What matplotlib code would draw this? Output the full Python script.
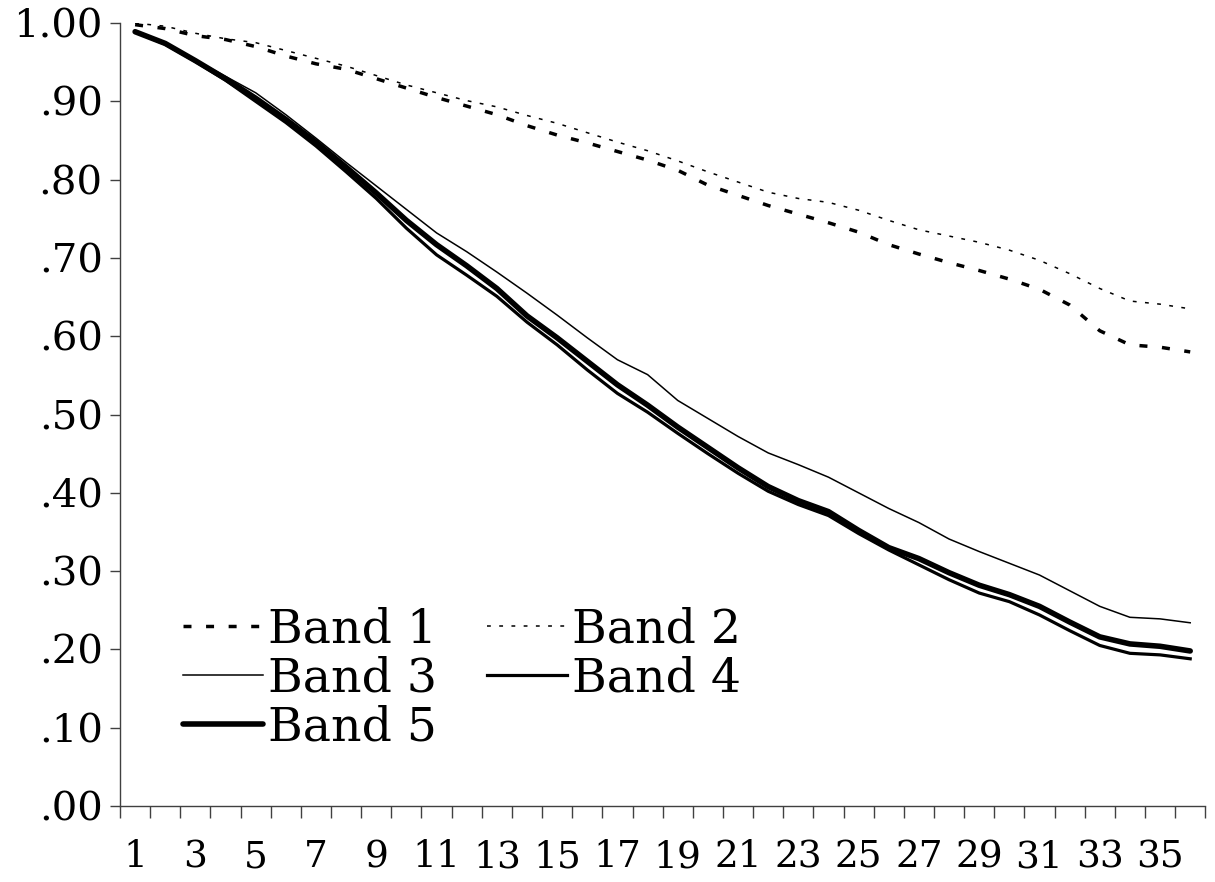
import matplotlib.pyplot as plt
from matplotlib.ticker import FixedLocator, FuncFormatter

# period index 1..36
periods = list(range(1, 37))

band1 = [0.998, 0.993, 0.984, 0.979, 0.970, 0.958, 0.948, 0.941, 0.929, 0.917,
         0.905, 0.894, 0.883, 0.869, 0.857, 0.847, 0.836, 0.825, 0.812, 0.793,
         0.780, 0.767, 0.756, 0.745, 0.733, 0.717, 0.705, 0.694, 0.684, 0.673,
         0.660, 0.640, 0.607, 0.589, 0.586, 0.580]
band2 = [1.000, 0.996, 0.987, 0.980, 0.975, 0.965, 0.955, 0.945, 0.933, 0.921,
         0.911, 0.901, 0.893, 0.882, 0.872, 0.860, 0.848, 0.837, 0.824, 0.810,
         0.797, 0.784, 0.776, 0.771, 0.761, 0.748, 0.736, 0.728, 0.720, 0.710,
         0.697, 0.680, 0.661, 0.645, 0.641, 0.635]
band3 = [0.990, 0.975, 0.953, 0.932, 0.911, 0.883, 0.853, 0.822, 0.792, 0.762,
         0.732, 0.708, 0.682, 0.655, 0.627, 0.598, 0.570, 0.551, 0.518, 0.495,
         0.472, 0.451, 0.436, 0.420, 0.400, 0.380, 0.362, 0.341, 0.325, 0.310,
         0.295, 0.275, 0.255, 0.241, 0.239, 0.234]
band4 = [0.989, 0.973, 0.951, 0.927, 0.900, 0.873, 0.843, 0.810, 0.776, 0.738,
         0.704, 0.678, 0.651, 0.618, 0.589, 0.557, 0.527, 0.503, 0.476, 0.450,
         0.425, 0.402, 0.385, 0.371, 0.348, 0.327, 0.308, 0.289, 0.272, 0.261,
         0.244, 0.224, 0.205, 0.195, 0.193, 0.188]
band5 = [0.989, 0.974, 0.952, 0.929, 0.904, 0.877, 0.848, 0.816, 0.783, 0.748,
         0.717, 0.690, 0.661, 0.626, 0.598, 0.568, 0.538, 0.512, 0.484, 0.458,
         0.432, 0.408, 0.390, 0.376, 0.352, 0.330, 0.316, 0.298, 0.282, 0.270,
         0.255, 0.235, 0.216, 0.207, 0.204, 0.198]

plt.rcParams['font.family'] = ['DejaVu Serif']

fig = plt.figure(figsize=(12.15, 8.82), dpi=100)
ax = fig.add_axes([0.0988, 0.0862, 0.8932, 0.8876])

l1, = ax.plot(periods, band1, color='black', lw=2.5, dashes=(2.3, 4.2), label='Band 1')
l2, = ax.plot(periods, band2, color='black', lw=1.1, dashes=(2.5, 5.5), label='Band 2')
l3, = ax.plot(periods, band3, color='black', lw=1.1, label='Band 3')
l4, = ax.plot(periods, band4, color='black', lw=2.3, label='Band 4')
l5, = ax.plot(periods, band5, color='black', lw=4.0, label='Band 5',
              solid_capstyle='round')

ax.set_xlim(0.5, 36.5)
ax.set_ylim(0, 1)

for s in ['top', 'right']:
    ax.spines[s].set_visible(False)
for s in ['left', 'bottom']:
    ax.spines[s].set_color('#404040')
    ax.spines[s].set_linewidth(1)

# y ticks .00 .. 1.00
ax.set_yticks([i / 10 for i in range(11)])
ax.yaxis.set_major_formatter(FuncFormatter(lambda v, p: ('%.2f' % v).lstrip('0') if v < 1 else '%.2f' % v))
ax.tick_params(axis='y', direction='out', length=7.5, width=1, color='#404040',
               labelsize=29, pad=5)

# x: tick marks between categories, labels on odd categories
ax.xaxis.set_major_locator(FixedLocator([p - 0.5 for p in periods] + [36.5]))
ax.xaxis.set_major_formatter(FuncFormatter(lambda v, p: ''))
ax.xaxis.set_minor_locator(FixedLocator([p for p in periods if p % 2 == 1]))
ax.xaxis.set_minor_formatter(FuncFormatter(lambda v, p: '%d' % v))
ax.tick_params(axis='x', which='major', direction='out', length=8.5, width=1,
               color='#404040')
ax.tick_params(axis='x', which='minor', length=0, labelsize=27, pad=24)

# legend filled row by row: (1, 2) / (3, 4) / (5)
handles = [l1, l3, l5, l2, l4]
labels = [h.get_label() for h in handles]
leg = ax.legend(handles, labels, loc='upper left', bbox_to_anchor=(0.058, 0.254),
                ncol=2, frameon=False, fontsize=34, handlelength=1.7,
                handletextpad=0.1, columnspacing=1.05, labelspacing=0.08,
                borderpad=0, borderaxespad=0)

fig.savefig('out.png', dpi=100)
